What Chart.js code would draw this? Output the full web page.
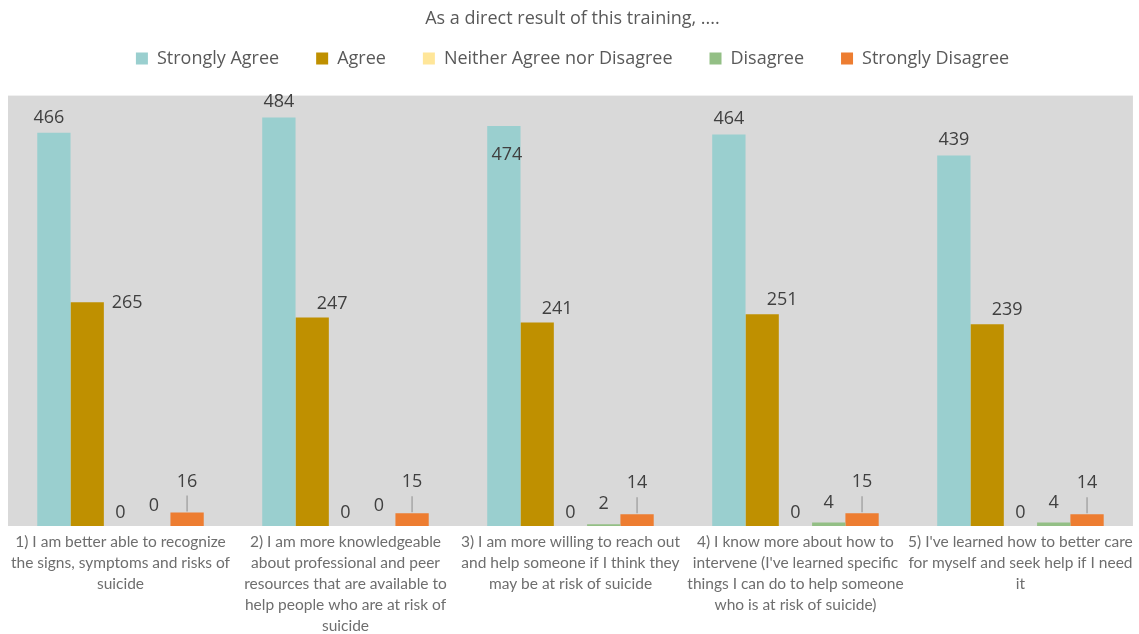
<!DOCTYPE html>
<html>
<head>
<meta charset="utf-8">
<script src="https://cdn.jsdelivr.net/npm/chart.js@4/dist/chart.umd.min.js"></script>
<style>
  html, body { margin: 0; padding: 0; background: #fff; }
  #wrap { width: 1139px; height: 634px; position: relative; }
</style>
</head>
<body>
<div id="wrap"><canvas id="chart"></canvas></div>
<script>
/* ── data ── */
const categories = [
  ['1) I am better able to recognize', 'the signs, symptoms and risks of', 'suicide'],
  ['2) I am more knowledgeable', 'about professional and peer', 'resources that are available to', 'help people who are at risk of', 'suicide'],
  ['3) I am more willing to reach out', 'and help someone if I think they', 'may be at risk of suicide'],
  ['4) I know more about how to', 'intervene (I\'ve learned specific', 'things I can do to help someone', 'who is at risk of suicide)'],
  ['5) I\'ve learned how to better care', 'for myself and seek help if I need', 'it']
];
const seriesNames = ['Strongly Agree', 'Agree', 'Neither Agree nor Disagree', 'Disagree', 'Strongly Disagree'];
const stronglyAgree = [466, 484, 474, 464, 439];
const agree         = [265, 247, 241, 251, 239];
const neither       = [0, 0, 0, 0, 0];
const disagree      = [0, 0, 2, 4, 4];
const stronglyDis   = [16, 15, 14, 15, 14];

const colors = ['#9ACFCF', '#BF9000', '#FFE699', '#93BF85', '#ED7D31'];

/* ── plot background ── */
const plotBg = {
  id: 'plotBg',
  beforeDraw(chart) {
    const { ctx, chartArea: a } = chart;
    ctx.save();
    ctx.fillStyle = '#D9D9D9';
    ctx.fillRect(a.left, a.top, a.right - a.left, a.bottom - a.top);
    ctx.restore();
  }
};

/* ── legend: wide item spacing but extra room below ── */
const legendRoom = {
  id: 'legendRoom',
  beforeInit(chart) {
    const fit = chart.legend.fit;
    chart.legend.fit = function () {
      fit.call(this);
      this.height += 18;
    };
  }
};

/* ── value labels (Excel style, some dragged aside) ── */
const labelPos = [
  { dx: 0, dy: -16 },
  { dx: 20, dy: -14 },
  { dx: 0, dy: -13 },
  { dx: 0, dy: -20 },
  { dx: 0, dy: -31, leader: true }
];
const labelOverride = {
  '0-0': { dx: -5, dy: -15 },
  '0-2': { dx: 3, dy: 29 },
  '1-0': { dx: 40, dy: 1 }
};

const valueLabels = {
  id: 'valueLabels',
  afterDatasetsDraw(chart) {
    const { ctx } = chart;
    ctx.save();
    ctx.font = '18px "Open Sans", sans-serif';
    ctx.fillStyle = '#404040';
    ctx.textAlign = 'center';
    ctx.textBaseline = 'middle';
    chart.data.datasets.forEach((ds, di) => {
      chart.getDatasetMeta(di).data.forEach((bar, i) => {
        const p = labelOverride[di + '-' + i] || labelPos[di];
        const x = bar.x + p.dx, y = bar.y + p.dy;
        if (p.leader) {
          ctx.strokeStyle = '#A6A6A6';
          ctx.lineWidth = 1.5;
          ctx.beginPath();
          ctx.moveTo(bar.x, y + 14);
          ctx.lineTo(bar.x, bar.y - 1);
          ctx.stroke();
        }
        ctx.fillText(String(ds.data[i]), x, y);
      });
    });
    ctx.restore();
  }
};

const allSeries = [stronglyAgree, agree, neither, disagree, stronglyDis];

new Chart(document.getElementById('chart'), {
  type: 'bar',
  data: {
    labels: categories,
    datasets: seriesNames.map((name, i) => ({
      label: name,
      data: allSeries[i],
      backgroundColor: colors[i],
      borderWidth: 0,
      barPercentage: 1,
      categoryPercentage: 0.74
    }))
  },
  options: {
    responsive: true,
    maintainAspectRatio: false,
    animation: false,
    layout: { padding: { left: 8, right: 2, top: 0, bottom: -9 } },
    plugins: {
      title: {
        display: true,
        text: 'As a direct result of this training, ....',
        color: '#595959',
        font: { family: '"Open Sans", sans-serif', size: 18, weight: 'normal' },
        padding: { top: 8, bottom: -17 }
      },
      legend: {
        position: 'top',
        labels: {
          color: '#595959',
          font: { family: '"Open Sans", sans-serif', size: 18 },
          boxWidth: 12,
          boxHeight: 12,
          padding: 37
        }
      },
      tooltip: { enabled: false }
    },
    scales: {
      x: {
        grid: { display: false, drawTicks: false },
        border: { display: false },
        ticks: {
          color: '#6E6E6E',
          font: { family: 'Lato, sans-serif', size: 15.5, lineHeight: 1.355 },
          maxRotation: 0,
          autoSkip: false,
          padding: 6
        }
      },
      y: {
        display: false,
        min: 0,
        max: 510
      }
    }
  },
  plugins: [plotBg, legendRoom, valueLabels]
});
</script>
</body>
</html>
